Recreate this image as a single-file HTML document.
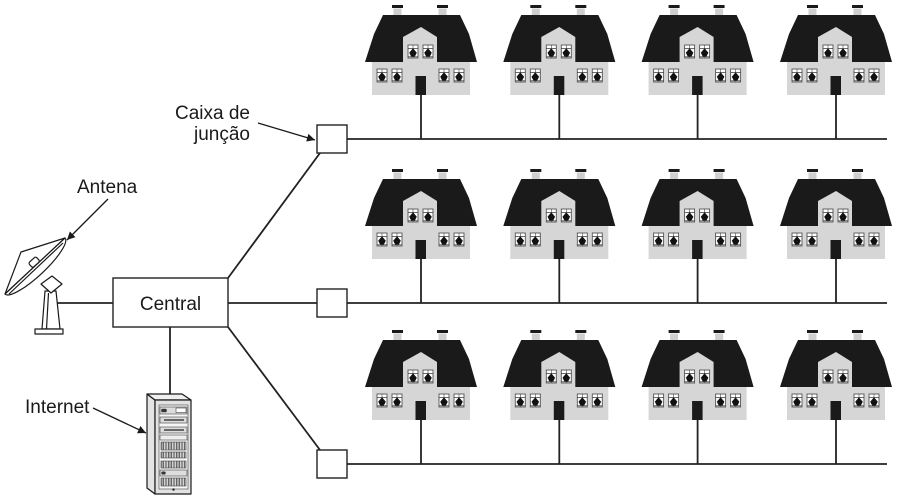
<!DOCTYPE html>
<html><head><meta charset="utf-8"><style>
html,body{margin:0;padding:0;background:#fff;}
svg{display:block;}
text{font-family:"Liberation Sans",Arial,sans-serif;font-size:19px;fill:#1a1a1a;}
</style></head><body>
<svg width="900" height="500" viewBox="0 0 900 500" xmlns="http://www.w3.org/2000/svg">
<defs>
  <pattern id="vs" width="1.6" height="4" patternUnits="userSpaceOnUse">
    <rect x="0" y="0" width="0.8" height="4" fill="#444"/>
  </pattern>
  <marker id="ah" viewBox="0 0 10 10" refX="10" refY="5" markerWidth="10" markerHeight="8" markerUnits="userSpaceOnUse" orient="auto">
    <path d="M0,0 L10,5 L0,10 Z" fill="#1a1a1a"/>
  </marker>
  <g id="w">
    <rect x="0" y="0" width="10" height="13" fill="#fff" stroke="#555" stroke-width="0.9"/>
    <line x1="0" y1="3.5" x2="10" y2="3.5" stroke="#444" stroke-width="0.8"/>
    <line x1="5" y1="0" x2="5" y2="13" stroke="#444" stroke-width="0.6"/>
    <path d="M5,3.2 L8.8,7.8 L6.8,11.6 L3.2,11.6 L1.2,7.8 Z" fill="#111"/>
    <line x1="0" y1="11.8" x2="10" y2="11.8" stroke="#444" stroke-width="0.8"/>
  </g>
  <g id="h">
    <rect x="392" y="5" width="11" height="3" fill="#1a1a1a"/>
    <rect x="393.5" y="8.5" width="8" height="7" fill="#cfcfcf"/>
    <rect x="437" y="5" width="11" height="3" fill="#1a1a1a"/>
    <rect x="438.5" y="8.5" width="8" height="7" fill="#cfcfcf"/>
    <path d="M383,15 L460,15 L469,34 L477,62 L365,62 L374,34 Z" fill="#1a1a1a"/>
    <rect x="372" y="62" width="98" height="33" fill="#d6d6d6"/>
    <path d="M403,37 L421,27 L437,37 L437,62 L403,62 Z" fill="#d6d6d6"/>
    <use href="#w" x="408" y="45"/>
    <use href="#w" x="423" y="45"/>
    <use href="#w" x="377" y="69"/>
    <use href="#w" x="392" y="69"/>
    <use href="#w" x="439" y="69"/>
    <use href="#w" x="454" y="69"/>
    <rect x="415.5" y="76" width="10.5" height="19" fill="#1a1a1a"/>
    <line x1="421" y1="95" x2="421" y2="139" stroke="#222" stroke-width="1.8"/>
  </g>
</defs>

<!-- houses -->
<use href="#h" x="0" y="0"/>
<use href="#h" x="138.3" y="0"/>
<use href="#h" x="276.6" y="0"/>
<use href="#h" x="415" y="0"/>
<use href="#h" x="0" y="164"/>
<use href="#h" x="138.3" y="164"/>
<use href="#h" x="276.6" y="164"/>
<use href="#h" x="415" y="164"/>
<use href="#h" x="0" y="325"/>
<use href="#h" x="138.3" y="325"/>
<use href="#h" x="276.6" y="325"/>
<use href="#h" x="415" y="325"/>

<g stroke="#222" stroke-width="1.8" fill="none">
  <line x1="347" y1="139" x2="887" y2="139"/>
  <line x1="347" y1="303" x2="887" y2="303"/>
  <line x1="347" y1="464" x2="887" y2="464"/>
  <line x1="228" y1="303" x2="317" y2="303"/>
  <line x1="228" y1="278" x2="320" y2="153"/>
  <line x1="228" y1="327" x2="320" y2="450"/>
  <line x1="57" y1="303" x2="113" y2="303"/>
  <line x1="170" y1="327" x2="170" y2="396"/>
</g>
<g stroke="#222" stroke-width="1.4" fill="#fff">
  <rect x="317" y="125" width="30" height="28"/>
  <rect x="317" y="289" width="30" height="28"/>
  <rect x="317" y="450" width="30" height="28"/>
  <rect x="113" y="278" width="115" height="49"/>
</g>
<text x="170.5" y="310" text-anchor="middle">Central</text>

<!-- labels -->
<text x="77" y="193">Antena</text>
<text x="250" y="119" text-anchor="end">Caixa de</text>
<text x="250" y="140" text-anchor="end">junção</text>
<text x="25" y="413">Internet</text>

<g stroke="#1a1a1a" stroke-width="1.3" fill="none">
  <line x1="108" y1="199" x2="67" y2="240" marker-end="url(#ah)"/>
  <line x1="258" y1="123" x2="315" y2="140" marker-end="url(#ah)"/>
  <line x1="93" y1="408" x2="146" y2="433" marker-end="url(#ah)"/>
</g>

<!-- antenna -->
<g stroke="#1a1a1a" stroke-width="1.2" fill="#fff" stroke-linejoin="round">
  <polygon points="45,291 56,291 60,329 42,329"/>
  <line x1="48.5" y1="293" x2="46.5" y2="329"/>
  <rect x="35" y="329" width="28" height="5"/>
  <polygon points="41,284 52,276 62,284 51,293"/>
  <polygon points="21,252 65,238 5,294"/>
  <rect x="29" y="259" width="10" height="6.5" rx="2" transform="rotate(-42 34 262)"/>
  <path d="M65,238 A41,10 -43 0 1 5,294 Z"/>
  <line x1="63" y1="243" x2="9" y2="294"/>
</g>

<!-- server -->
<g stroke="#1a1a1a" stroke-width="1.2" stroke-linejoin="round">
  <polygon points="147,394 155,400 155,494 147,488" fill="#e4e4e4"/>
  <polygon points="147,394 182,394 191,400 155,400" fill="#efefef"/>
  <rect x="155" y="400" width="36" height="94" fill="#e2e2e2"/>
</g>
<g stroke="#444" stroke-width="0.6">
  <rect x="159" y="405" width="29" height="84" fill="#f6f6f6"/>
  <rect x="160" y="407" width="27" height="7" fill="#ddd"/>
  <rect x="161.5" y="409" width="5" height="3" rx="1" fill="#333"/>
  <rect x="176" y="408" width="10" height="4.5" fill="#fff"/>
  <rect x="160" y="417" width="27" height="6" fill="#ddd"/>
  <line x1="164" y1="420" x2="184" y2="420" stroke="#222" stroke-width="1.2"/>
  <rect x="160" y="427" width="27" height="6" fill="#ddd"/>
  <line x1="164" y1="430" x2="184" y2="430" stroke="#222" stroke-width="1.2"/>
  <rect x="160" y="435" width="27" height="5" fill="#eee"/>
  <rect x="161" y="442" width="25" height="8" fill="url(#vs)"/>
  <rect x="161" y="452" width="25" height="6" fill="url(#vs)"/>
  <rect x="161" y="461" width="25" height="7" fill="url(#vs)"/>
  <rect x="160" y="470" width="27" height="6" fill="#ddd"/>
  <ellipse cx="163.5" cy="473" rx="2" ry="1.3" fill="#333"/>
  <rect x="161" y="478" width="25" height="8" fill="url(#vs)"/>
  <circle cx="173.5" cy="489.5" r="1" fill="#222"/>
</g>
</svg>
</body></html>
